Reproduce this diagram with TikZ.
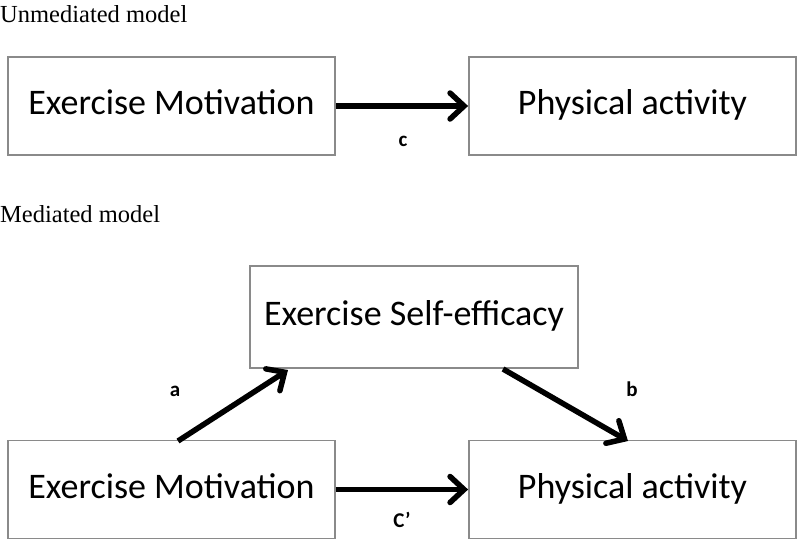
\documentclass[tikz,border=0pt]{standalone}
\usepackage{fontspec}
\setmainfont{Liberation Serif}
\newfontfamily\boxfont{Carlito}
\usetikzlibrary{arrows.meta}
\definecolor{boxgray}{HTML}{8A8A8A}
\begin{document}
\begin{tikzpicture}[x=1pt,y=-1pt,
  mbox/.style={draw=boxgray,line width=1.8pt,minimum width=327pt,minimum height=98pt,inner sep=0pt,text height=25pt,text depth=8pt,font=\boxfont\fontsize{36}{40}\selectfont},
  conn/.style={line width=5.5pt,-{Straight Barb[length=14pt,width=26pt,line cap=round]}},
  lab/.style={font=\boxfont\bfseries\fontsize{21}{24}\selectfont},
  ttl/.style={anchor=west,inner sep=0pt,font=\fontsize{24.5}{28}\selectfont}]
\useasboundingbox (0,0) rectangle (800,544);
\node[ttl] (t1) at (0,14) {Unmediated model};
\node[ttl] (t2) at (0,214) {Mediated model};
\node[mbox] (em1) at (171.5,106) {Exercise Motivation};
\node[mbox] (pa1) at (632.5,106) {Physical activity};
\node[mbox,minimum width=328pt,minimum height=102pt] (se) at (414,317) {Exercise Self-efficacy};
\node[mbox] (em2) at (171.5,489.5) {Exercise Motivation};
\node[mbox] (pa2) at (632.5,489.5) {Physical activity};
\draw[conn] (em1.east) -- (pa1.west);
\draw[conn] (em2.east) -- (pa2.west);
\coordinate (aS) at (178,441);
\coordinate (aE) at (288,370);
\coordinate (bS) at (503,369);
\coordinate (bE) at (628,441);
\draw[conn] (aS) -- (aE);
\draw[conn] (bS) -- (bE);
\node[lab] (lc) at (403,141) {c};
\node[lab] (la) at (175,391) {a};
\node[lab] (lb) at (632,389) {b};
\node[lab] (lcp) at (402,520) {C’};
\end{tikzpicture}
\end{document}
